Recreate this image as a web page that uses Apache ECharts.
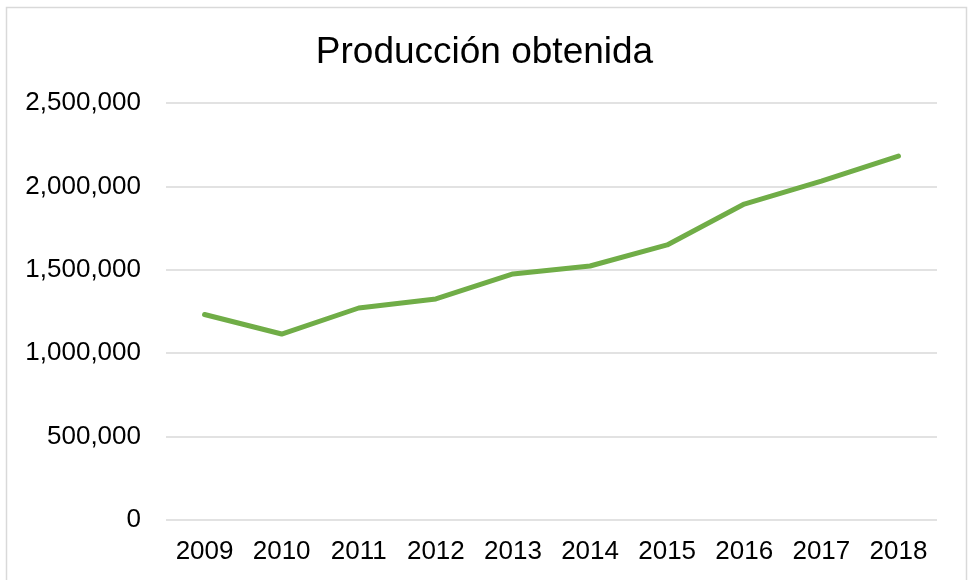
<!DOCTYPE html>
<html>
<head>
<meta charset="utf-8">
<script src="https://cdn.jsdelivr.net/npm/echarts@6/dist/echarts.min.js"></script>
<style>
  html, body { margin: 0; padding: 0; background: #fff; }
  #chart { width: 969px; height: 580px; }
</style>
</head>
<body>
<div id="chart"></div>
<script>
// datos
var years = ['2009', '2010', '2011', '2012', '2013', '2014', '2015', '2016', '2017', '2018'];
var produccion = [1232000, 1115000, 1271000, 1325000, 1475000, 1523000, 1649000, 1894000, 2032000, 2182000];
var yMin = 0;
var yMax = 2500000;
var yStep = 500000;

var chart = echarts.init(document.getElementById('chart'));
var font = 'Liberation Sans, Arial, sans-serif';

var option = {
  backgroundColor: '#fff',
  animation: false,
  title: {
    text: 'Producción obtenida',
    left: 'center',
    top: 29,
    textStyle: { fontFamily: font, fontSize: 37, fontWeight: 'normal', color: '#000' }
  },
  graphic: [{
    type: 'rect',
    shape: { x: 6.5, y: 7.5, width: 960, height: 600 },
    style: { fill: 'none', stroke: '#d9d9d9', lineWidth: 1.5 },
    silent: true
  }],
  grid: { left: 166, right: 32, top: 103, bottom: 60 },
  xAxis: {
    type: 'category',
    data: years,
    boundaryGap: true,
    axisLine: { show: false },
    axisTick: { show: false },
    axisLabel: { fontFamily: font, fontSize: 26, color: '#000', margin: 19 }
  },
  yAxis: {
    type: 'value',
    min: yMin,
    max: yMax,
    interval: yStep,
    axisLine: { show: false },
    axisTick: { show: false },
    axisLabel: {
      fontFamily: font, fontSize: 26, color: '#000', margin: 25,
      formatter: function (v) { return v.toLocaleString('en-US'); }
    },
    splitLine: { lineStyle: { color: '#d9d9d9', width: 1.5 } }
  },
  series: [{
    type: 'line',
    data: produccion,
    symbol: 'none',
    lineStyle: { color: '#70ad47', width: 5, cap: 'round', join: 'round' }
  }]
};
chart.setOption(option);
</script>
</body>
</html>
